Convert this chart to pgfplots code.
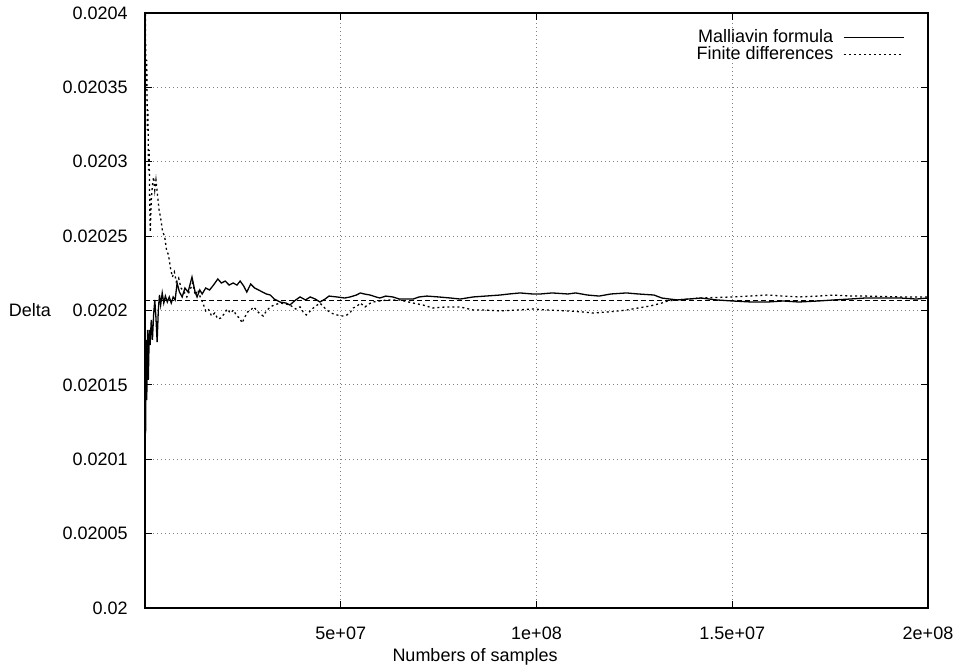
\documentclass[border=0pt]{standalone}
\usepackage{fontspec}
\setmainfont{Liberation Sans}
\usepackage{pgfplots}
\pgfplotsset{compat=1.18}

% Running estimates of the option Delta against the number of Monte Carlo samples
\pgfplotstableread{
n        delta
0        0.0202071
1.5e5    0.0201176
3.0e5    0.0201802
4.5e5    0.0201398
6.5e5    0.0201869
8.5e5    0.0201533
1.1e6    0.0201869
1.3e6    0.0201768
1.6e6    0.0201936
1.9e6    0.0201802
2.2e6    0.0201970
2.5e6    0.0202071
2.8e6    0.0201950
3.1e6    0.0201788
3.4e6    0.0202003
3.7e6    0.0202104
4.0e6    0.0202037
4.4e6    0.0202118
4.8e6    0.0202050
5.2e6    0.0202097
5.7e6    0.0202057
6.2e6    0.0202091
6.7e6    0.0202050
7.2e6    0.0202091
7.7e6    0.0202071
8.2e6    0.0202185
8.8e6    0.0202124
9.5e6    0.0202091
1.02e7   0.0202151
1.10e7   0.0202124
1.20e7   0.0202225
1.28e7   0.0202124
1.33e7   0.0202091
1.40e7   0.0202138
1.46e7   0.0202111
1.55e7   0.0202151
1.65e7   0.0202138
1.75e7   0.0202171
1.86e7   0.0202212
1.95e7   0.0202185
2.05e7   0.0202198
2.15e7   0.0202171
2.25e7   0.0202185
2.35e7   0.0202171
2.43e7   0.0202198
2.52e7   0.0202165
2.60e7   0.0202124
2.70e7   0.0202178
2.80e7   0.0202151
2.90e7   0.0202138
3.00e7   0.0202124
3.10e7   0.0202111
3.20e7   0.0202104
3.30e7   0.0202077
3.45e7   0.0202057
3.60e7   0.0202050
3.70e7   0.0202037
3.85e7   0.0202071
3.96e7   0.0202091
4.10e7   0.0202071
4.22e7   0.0202091
4.35e7   0.0202077
4.47e7   0.0202057
4.60e7   0.0202077
4.70e7   0.0202097
4.90e7   0.0202091
5.10e7   0.0202084
5.24e7   0.0202091
5.40e7   0.0202104
5.50e7   0.0202118
5.60e7   0.0202111
5.75e7   0.0202104
5.90e7   0.0202091
6.00e7   0.0202084
6.15e7   0.0202097
6.33e7   0.0202091
6.50e7   0.0202077
6.85e7   0.0202077
7.00e7   0.0202091
7.20e7   0.0202097
7.50e7   0.0202091
7.80e7   0.0202084
8.05e7   0.0202077
8.38e7   0.0202091
8.70e7   0.0202097
9.07e7   0.0202104
9.30e7   0.0202111
9.58e7   0.0202118
9.90e7   0.0202111
1.01e8   0.0202111
1.04e8   0.0202118
1.08e8   0.0202111
1.10e8   0.0202118
1.13e8   0.0202104
1.16e8   0.0202097
1.19e8   0.0202111
1.23e8   0.0202118
1.26e8   0.0202111
1.30e8   0.0202104
1.32e8   0.0202084
1.34e8   0.0202077
1.36e8   0.0202071
1.42e8   0.0202084
1.46e8   0.0202071
1.50e8   0.0202064
1.55e8   0.0202057
1.59e8   0.0202057
1.63e8   0.0202064
1.67e8   0.0202057
1.72e8   0.0202064
1.76e8   0.0202071
1.80e8   0.0202077
1.84e8   0.0202084
1.89e8   0.0202084
1.93e8   0.0202084
1.97e8   0.0202077
2.00e8   0.0202084
}\malliavin

\pgfplotstableread{
n        delta
0        0.0205000
1.5e5    0.0203800
3.0e5    0.0203482
4.5e5    0.0203684
6.0e5    0.0203213
7.5e5    0.0203348
9.0e5    0.0202944
1.05e6   0.0203079
1.2e6    0.0202743
1.35e6   0.0202528
1.6e6    0.0202743
1.9e6    0.0202844
2.2e6    0.0202897
2.5e6    0.0202810
2.8e6    0.0202877
3.2e6    0.0202776
3.6e6    0.0202676
4.0e6    0.0202622
4.5e6    0.0202528
5.0e6    0.0202501
5.5e6    0.0202407
6.0e6    0.0202373
6.5e6    0.0202286
7.0e6    0.0202225
7.5e6    0.0202259
8.0e6    0.0202192
8.6e6    0.0202218
9.2e6    0.0202151
1.00e7   0.0202124
1.07e7   0.0202091
1.15e7   0.0202138
1.22e7   0.0202185
1.28e7   0.0202104
1.35e7   0.0202138
1.42e7   0.0202084
1.48e7   0.0202050
1.55e7   0.0201997
1.62e7   0.0202010
1.70e7   0.0201963
1.78e7   0.0201983
1.86e7   0.0201943
1.94e7   0.0201950
2.02e7   0.0201977
2.10e7   0.0202010
2.18e7   0.0201983
2.26e7   0.0202003
2.34e7   0.0201963
2.42e7   0.0201950
2.48e7   0.0201916
2.55e7   0.0201956
2.62e7   0.0201990
2.70e7   0.0202003
2.78e7   0.0202024
2.86e7   0.0201997
2.94e7   0.0201977
3.02e7   0.0201963
3.10e7   0.0201997
3.20e7   0.0202024
3.30e7   0.0202037
3.45e7   0.0202050
3.60e7   0.0202044
3.70e7   0.0202037
3.85e7   0.0202010
3.96e7   0.0202024
4.04e7   0.0201990
4.12e7   0.0201970
4.22e7   0.0201997
4.30e7   0.0202017
4.40e7   0.0202037
4.47e7   0.0202050
4.56e7   0.0202024
4.65e7   0.0202003
4.75e7   0.0201983
4.90e7   0.0201970
5.05e7   0.0201963
5.16e7   0.0201970
5.25e7   0.0201990
5.32e7   0.0202017
5.42e7   0.0202030
5.50e7   0.0202050
5.62e7   0.0202024
5.72e7   0.0202044
5.82e7   0.0202057
6.00e7   0.0202064
6.20e7   0.0202071
6.50e7   0.0202071
6.85e7   0.0202050
7.10e7   0.0202037
7.35e7   0.0202017
7.70e7   0.0202024
8.05e7   0.0202024
8.38e7   0.0202003
8.70e7   0.0202003
9.07e7   0.0201997
9.50e7   0.0202003
9.90e7   0.0202010
1.03e8   0.0202003
1.08e8   0.0201997
1.12e8   0.0201990
1.145e8  0.0201983
1.18e8   0.0201990
1.21e8   0.0201997
1.23e8   0.0202003
1.26e8   0.0202017
1.29e8   0.0202030
1.32e8   0.0202050
1.335e8  0.0202064
1.36e8   0.0202071
1.42e8   0.0202084
1.50e8   0.0202091
1.59e8   0.0202104
1.63e8   0.0202097
1.67e8   0.0202091
1.72e8   0.0202097
1.76e8   0.0202104
1.80e8   0.0202097
1.84e8   0.0202097
1.93e8   0.0202091
2.00e8   0.0202091
}\finitediff

\begin{document}
\fontsize{9pt}{11pt}\selectfont
\begin{tikzpicture}
\begin{axis}[
  scale only axis,
  width=391.5pt, height=297.5pt,
  xmin=0, xmax=2e8,
  ymin=0.02, ymax=0.0204,
  axis line style={line width=1pt},
  tick style={black, line width=0.5pt},
  major tick length=3.5pt,
  tick align=inside,
  tick pos=both,
  scaled x ticks=false, scaled y ticks=false,
  xtick={5e7,1e8,1.5e8,2e8},
  xticklabels={5e+07,1e+08,1.5e+07,2e+08},
  ytick={0.02,0.02005,0.0201,0.02015,0.0202,0.02025,0.0203,0.02035,0.0204},
  yticklabels={0.02,0.02005,0.0201,0.02015,0.0202,0.02025,0.0203,0.02035,0.0204},
  xticklabel style={anchor=base, inner sep=0pt, yshift=-15.75pt},
  yticklabel style={anchor=east, inner sep=0pt, xshift=-8.5pt},
  grid=major,
  major grid style={gray, line width=0.5pt, dash pattern=on 0.5pt off 1.5pt},
  xlabel={Numbers of samples},
  ylabel={Delta},
  every axis x label/.style={at={(rel axis cs:0.4215,0)}, anchor=center, yshift=-24.5pt},
  every axis y label/.style={at={(rel axis cs:0,0.5)}, anchor=center, xshift=-57.5pt},
  legend cell align=right,
  legend plot pos=right,
  legend image code/.code={\draw[#1] (0pt,0pt) -- (30pt,0pt);},
  legend style={at={(rel axis cs:0.9706,0.9723)}, anchor=north east,
    draw=none, fill=none, inner sep=0pt, row sep=1pt, column sep=5pt,
    nodes={inner sep=0pt, text height=6.5pt, text depth=1pt}},
]
\addplot[black, line width=0.65pt] table[x=n, y=delta] {\malliavin};
\addlegendentry{Malliavin formula}
\addplot[black, line width=0.65pt, dash pattern=on 1pt off 1.5pt] table[x=n, y=delta] {\finitediff};
\addlegendentry{Finite differences}
% reference value of Delta
\addplot[black, line width=0.5pt, dash pattern=on 2.5pt off 1.5pt, forget plot] coordinates {(0,0.020207) (2e8,0.020207)};
\end{axis}
\pgfresetboundingbox
\path ([shift={(-72.5pt,-30pt)}]current axis.south west) rectangle ([shift={(15pt,6.5pt)}]current axis.north east);
\end{tikzpicture}
\end{document}
